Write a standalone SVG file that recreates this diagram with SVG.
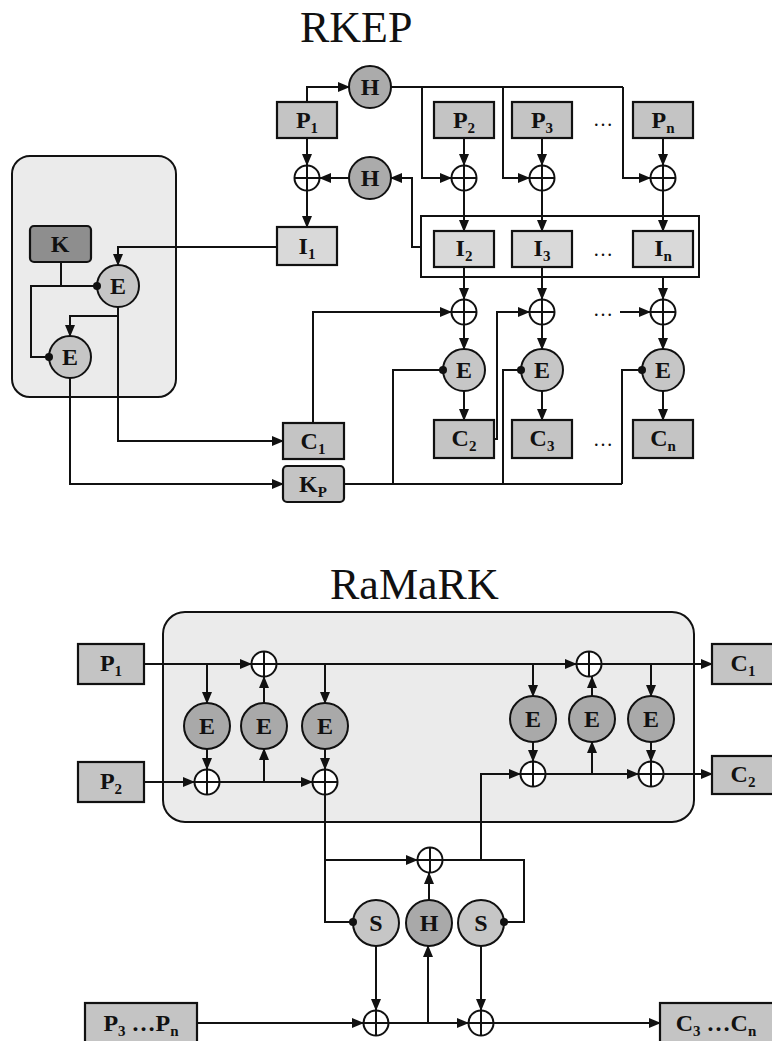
<svg xmlns="http://www.w3.org/2000/svg" width="772" height="1041" viewBox="0 0 772 1041">
<style>
.t{font-family:"Liberation Serif","Times New Roman",serif;fill:#111}
.title{font-size:44px}
.lb{font-size:24px;font-weight:bold;text-anchor:middle}
.sub{font-size:15px}
.dots{font-size:20px;text-anchor:middle}
.ln{fill:none;stroke:#111;stroke-width:2}
.arr{fill:none;stroke:#111;stroke-width:2;marker-end:url(#ah)}
.box{stroke:#111;stroke-width:2.2}
.pb{fill:#c4c4c4}
.ib{fill:#d9d9d9}
.kb{fill:#8e8e8e}
.hc{fill:#ababab;stroke:#111;stroke-width:2}
.ec{fill:#c6c6c6;stroke:#111;stroke-width:2}
.ed{fill:#a9a9a9;stroke:#111;stroke-width:2}
.xo{fill:#fff;stroke:#111;stroke-width:2}
.panel{fill:#ebebeb;stroke:#111;stroke-width:2}
.dot{fill:#111}
</style>
<defs>
<marker id="ah" markerUnits="userSpaceOnUse" markerWidth="12" markerHeight="10" refX="11" refY="5" orient="auto">
<path d="M0,0 L12,5 L0,10 z" fill="#111"/>
</marker>
<g id="xor"><circle r="12.5" class="xo"/><path d="M-12.5,0 H12.5 M0,-12.5 V12.5" class="ln"/></g>
</defs>

<text class="t title" x="300" y="42">RKEP</text>
<text class="t title" x="330" y="599">RaMaRK</text>

<!-- panels -->
<g id="keypanel"><rect x="12" y="156" width="164" height="241" rx="18" class="panel"/></g>
<g id="ramarkpanel"><rect x="163" y="612" width="531" height="210" rx="22" class="panel"/></g>
<g id="iframe"><rect x="421" y="216" width="278" height="61" fill="#fff" stroke="#111" stroke-width="2"/></g>

<g id="connectors">
<!-- top -->
<path class="arr" d="M307,102 V87 H349"/>
<path class="arr" d="M307,138 V165"/>
<path class="arr" d="M349,178 H320"/>
<path class="arr" d="M307,190 V227"/>
<path class="ln" d="M391,87 H623"/>
<path class="arr" d="M422,87 V178 H451"/>
<path class="arr" d="M503,87 V178 H529"/>
<path class="arr" d="M623,87 V178 H650"/>
<path class="arr" d="M464,138 V165"/>
<path class="arr" d="M542,138 V165"/>
<path class="arr" d="M663,138 V165"/>
<path class="arr" d="M464,191 V231"/>
<path class="arr" d="M542,191 V231"/>
<path class="arr" d="M663,191 V231"/>
<path class="arr" d="M421,247 H412 V178 H391"/>
<path class="arr" d="M464,267 V299"/>
<path class="arr" d="M542,267 V299"/>
<path class="arr" d="M663,277 V299"/>
<path class="arr" d="M464,325 V349"/>
<path class="arr" d="M542,325 V349"/>
<path class="arr" d="M663,325 V349"/>
<path class="arr" d="M464,391 V420"/>
<path class="arr" d="M542,391 V420"/>
<path class="arr" d="M663,391 V420"/>
<path class="arr" d="M313,423 V312 H451"/>
<path class="arr" d="M494,439 H497 V312 H529"/>
<path class="arr" d="M620,312 H650"/>
<path class="ln" d="M344,484 H622"/>
<path class="ln" d="M393,484 V370 H443"/>
<path class="ln" d="M503,484 V370 H521"/>
<path class="ln" d="M622,484 V370 H642"/>
<path class="arr" d="M277,247 H118 V265"/>
<path class="ln" d="M61,262 V286"/>
<path class="ln" d="M97,286 H31 V357 H49"/>
<path class="arr" d="M118,307 V441 H283"/>
<path class="arr" d="M118,316 H70 V336"/>
<path class="arr" d="M70,378 V484 H283"/>
<!-- bottom -->
<path class="arr" d="M144,664 H251"/>
<path class="arr" d="M277,664 H576"/>
<path class="arr" d="M602,664 H712"/>
<path class="arr" d="M207,664 V703"/>
<path class="arr" d="M207,749 V769"/>
<path class="arr" d="M264,782 V749"/>
<path class="arr" d="M264,703 V677"/>
<path class="arr" d="M325,664 V703"/>
<path class="arr" d="M325,749 V769"/>
<path class="arr" d="M144,782 H194"/>
<path class="arr" d="M220,782 H312"/>
<path class="arr" d="M533,664 V696"/>
<path class="arr" d="M533,742 V761"/>
<path class="arr" d="M592,774 V742"/>
<path class="arr" d="M592,696 V677"/>
<path class="arr" d="M651,664 V696"/>
<path class="arr" d="M651,742 V761"/>
<path class="arr" d="M481,860 V774 H520"/>
<path class="arr" d="M546,774 H638"/>
<path class="arr" d="M664,774 H712"/>
<path class="ln" d="M325,795 V922 H353"/>
<path class="arr" d="M325,860 H417"/>
<path class="ln" d="M443,860 H524 V922 H504"/>
<path class="arr" d="M429,900 V873"/>
<path class="arr" d="M376,946 V1010"/>
<path class="arr" d="M481,946 V1010"/>
<path class="arr" d="M197,1023 H363"/>
<path class="arr" d="M389,1023 H468"/>
<path class="arr" d="M428,1023 V946"/>
<path class="arr" d="M494,1023 H660"/>
</g>

<!-- TOP nodes -->
<g id="P1"><rect x="277" y="102" width="60" height="36" class="box pb"/><text class="t lb" x="307" y="128">P<tspan class="sub" dy="5">1</tspan></text></g>
<g id="Htop"><circle cx="370" cy="87" r="21" class="hc"/><text class="t lb" x="370" y="95">H</text></g>
<g id="Hmid"><circle cx="370" cy="178" r="21" class="hc"/><text class="t lb" x="370" y="186">H</text></g>
<g id="X0"><use href="#xor" x="307" y="178"/></g>
<g id="I1"><rect x="277" y="227" width="60" height="38" class="box ib"/><text class="t lb" x="307" y="254">I<tspan class="sub" dy="5">1</tspan></text></g>
<g id="P2"><rect x="434" y="102" width="60" height="36" class="box pb"/><text class="t lb" x="464" y="128">P<tspan class="sub" dy="5">2</tspan></text></g>
<g id="P3"><rect x="512" y="102" width="60" height="36" class="box pb"/><text class="t lb" x="542" y="128">P<tspan class="sub" dy="5">3</tspan></text></g>
<g id="Pn"><rect x="633" y="102" width="60" height="36" class="box pb"/><text class="t lb" x="663" y="128">P<tspan class="sub" dy="5">n</tspan></text></g>
<text class="t dots" x="603" y="126">…</text>
<g id="X1"><use href="#xor" x="464" y="178"/></g>
<g id="X2"><use href="#xor" x="542" y="178"/></g>
<g id="X3"><use href="#xor" x="663" y="178"/></g>
<g id="I2"><rect x="434" y="231" width="60" height="36" class="box ib"/><text class="t lb" x="464" y="256">I<tspan class="sub" dy="5">2</tspan></text></g>
<g id="I3"><rect x="512" y="231" width="60" height="36" class="box ib"/><text class="t lb" x="542" y="256">I<tspan class="sub" dy="5">3</tspan></text></g>
<g id="In"><rect x="633" y="231" width="60" height="36" class="box ib"/><text class="t lb" x="663" y="256">I<tspan class="sub" dy="5">n</tspan></text></g>
<text class="t dots" x="603" y="256">…</text>
<g id="X21"><use href="#xor" x="464" y="312"/></g>
<g id="X22"><use href="#xor" x="542" y="312"/></g>
<g id="X23"><use href="#xor" x="663" y="312"/></g>
<text class="t dots" x="603" y="316">…</text>
<g id="E21"><circle cx="464" cy="370" r="21" class="ec"/><text class="t lb" x="464" y="378">E</text></g>
<g id="E22"><circle cx="542" cy="370" r="21" class="ec"/><text class="t lb" x="542" y="378">E</text></g>
<g id="E23"><circle cx="663" cy="370" r="21" class="ec"/><text class="t lb" x="663" y="378">E</text></g>
<g id="C2"><rect x="434" y="420" width="60" height="38" class="box pb"/><text class="t lb" x="464" y="446">C<tspan class="sub" dy="5">2</tspan></text></g>
<g id="C3"><rect x="512" y="420" width="60" height="38" class="box pb"/><text class="t lb" x="542" y="446">C<tspan class="sub" dy="5">3</tspan></text></g>
<g id="Cn"><rect x="633" y="420" width="60" height="38" class="box pb"/><text class="t lb" x="663" y="446">C<tspan class="sub" dy="5">n</tspan></text></g>
<text class="t dots" x="603" y="446">…</text>
<g id="C1"><rect x="283" y="423" width="61" height="36" class="box pb"/><text class="t lb" x="313" y="449">C<tspan class="sub" dy="5">1</tspan></text></g>
<g id="KP"><rect x="283" y="466" width="61" height="36" rx="4" class="box pb"/><text class="t lb" x="313" y="492">K<tspan class="sub" dy="5">P</tspan></text></g>
<g id="K"><rect x="30" y="226" width="61" height="36" rx="4" class="box kb"/><text class="t lb" x="60" y="252">K</text></g>
<g id="E1"><circle cx="118" cy="286" r="21" class="ec"/><text class="t lb" x="118" y="294">E</text></g>
<g id="E2"><circle cx="70" cy="357" r="21" class="ec"/><text class="t lb" x="70" y="365">E</text></g>

<!-- BOTTOM nodes -->
<g id="bP1"><rect x="78" y="644" width="66" height="40" class="box pb"/><text class="t lb" x="111" y="671">P<tspan class="sub" dy="5">1</tspan></text></g>
<g id="bP2"><rect x="78" y="762" width="66" height="40" class="box pb"/><text class="t lb" x="111" y="789">P<tspan class="sub" dy="5">2</tspan></text></g>
<g id="bC1"><rect x="712" y="644" width="66" height="40" class="box pb"/><text class="t lb" x="743" y="671">C<tspan class="sub" dy="5">1</tspan></text></g>
<g id="bC2"><rect x="712" y="756" width="66" height="38" class="box pb"/><text class="t lb" x="743" y="782">C<tspan class="sub" dy="5">2</tspan></text></g>
<g id="bX1"><use href="#xor" x="264" y="664"/></g>
<g id="bX2"><use href="#xor" x="589" y="664"/></g>
<g id="bX3"><use href="#xor" x="207" y="782"/></g>
<g id="bX4"><use href="#xor" x="325" y="782"/></g>
<g id="bX5"><use href="#xor" x="533" y="774"/></g>
<g id="bX6"><use href="#xor" x="651" y="774"/></g>
<g id="bE1"><circle cx="207" cy="726" r="23" class="ed"/><text class="t lb" x="207" y="734">E</text></g>
<g id="bE2"><circle cx="264" cy="726" r="23" class="ed"/><text class="t lb" x="264" y="734">E</text></g>
<g id="bE3"><circle cx="325" cy="726" r="23" class="ed"/><text class="t lb" x="325" y="734">E</text></g>
<g id="bE4"><circle cx="533" cy="719" r="23" class="ed"/><text class="t lb" x="533" y="727">E</text></g>
<g id="bE5"><circle cx="592" cy="719" r="23" class="ed"/><text class="t lb" x="592" y="727">E</text></g>
<g id="bE6"><circle cx="651" cy="719" r="23" class="ed"/><text class="t lb" x="651" y="727">E</text></g>
<g id="bX7"><use href="#xor" x="430" y="860"/></g>
<g id="S1"><circle cx="376" cy="923" r="23" class="ec"/><text class="t lb" x="376" y="931">S</text></g>
<g id="bH"><circle cx="429" cy="923" r="23" class="ed"/><text class="t lb" x="429" y="931">H</text></g>
<g id="S2"><circle cx="481" cy="923" r="23" class="ec"/><text class="t lb" x="481" y="931">S</text></g>
<g id="bX8"><use href="#xor" x="376" y="1023"/></g>
<g id="bX9"><use href="#xor" x="481" y="1023"/></g>
<g id="P3n"><rect x="85" y="1003" width="112" height="45" class="box pb"/><text class="t lb" x="141" y="1031">P<tspan class="sub" dy="5">3</tspan><tspan dy="-5"> …P</tspan><tspan class="sub" dy="5">n</tspan></text></g>
<g id="C3n"><rect x="660" y="1003" width="122" height="45" class="box pb"/><text class="t lb" x="716" y="1031">C<tspan class="sub" dy="5">3</tspan><tspan dy="-5"> …C</tspan><tspan class="sub" dy="5">n</tspan></text></g>

<g id="keydots">
<circle class="dot" cx="443" cy="370" r="4"/>
<circle class="dot" cx="521" cy="370" r="4"/>
<circle class="dot" cx="642" cy="370" r="4"/>
<circle class="dot" cx="97" cy="286" r="4"/>
<circle class="dot" cx="49" cy="357" r="4"/>
<circle class="dot" cx="353" cy="922" r="4"/>
<circle class="dot" cx="504" cy="922" r="4"/>
</g>
</svg>
